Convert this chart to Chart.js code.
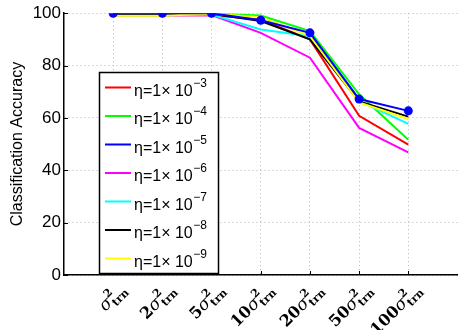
<!DOCTYPE html>
<html>
<head>
<meta charset="utf-8">
<script src="https://cdn.jsdelivr.net/npm/chart.js@4/dist/chart.umd.min.js"></script>
<style>
  html, body { margin: 0; padding: 0; background: #fff; overflow: hidden; }
  #wrap { width: 462px; height: 330px; }
</style>
</head>
<body>
<div id="wrap"><canvas id="chart"></canvas></div>
<script>
// ===== data =====
const xPositions = [1, 2, 3, 4, 5, 6, 7];
const xMultipliers = ['', '2', '5', '10', '20', '50', '100'];
const yTicks = [0, 20, 40, 60, 80, 100];

const etaExponents = ['3', '4', '5', '6', '7', '8', '9'];
const etaColors = ['#ff0000', '#00ff00', '#0000ff', '#ff00ff', '#00ffff', '#000000', '#ffff00'];

const acc1e3 = [99.2, 99.2, 99.3, 97.5, 90.0, 60.8, 49.8];
const acc1e4 = [99.4, 99.4, 99.8, 99.1, 93.2, 69.0, 51.7];
const acc1e5 = [100, 100, 100, 97.3, 92.5, 67.2, 62.7];
const acc1e6 = [99.2, 99.2, 99.3, 92.5, 83.0, 56.2, 46.8];
const acc1e7 = [99.2, 99.2, 99.5, 93.8, 91.2, 66.5, 57.7];
const acc1e8 = [99.5, 99.5, 99.8, 97.0, 90.0, 66.3, 60.5];
const acc1e9 = [99.0, 99.0, 99.8, 98.5, 91.3, 65.9, 59.6];

const seriesValues = [acc1e3, acc1e4, acc1e5, acc1e6, acc1e7, acc1e8, acc1e9];

// ===== plugin: matlab-style legend, inner ticks, LaTeX-ish x labels =====
const figureDecor = {
  id: 'figureDecor',
  afterDraw(chart) {
    const ctx = chart.ctx;
    const xs = chart.scales.x;
    const ys = chart.scales.y;
    const area = chart.chartArea;

    ctx.save();
    // inner tick marks
    ctx.strokeStyle = '#000';
    ctx.lineWidth = 1;
    ctx.beginPath();
    xPositions.forEach(v => {
      const px = Math.round(xs.getPixelForValue(v)) + 0.5;
      ctx.moveTo(px, area.bottom);
      ctx.lineTo(px, area.bottom - 4);
    });
    yTicks.forEach(v => {
      const py = Math.round(ys.getPixelForValue(v)) + 0.5;
      ctx.moveTo(area.left, py);
      ctx.lineTo(area.left + 4, py);
    });
    ctx.stroke();

    // legend box
    const bx = 99.5, by = 72.5, bw = 119, bh = 201;
    ctx.fillStyle = '#fff';
    ctx.fillRect(bx, by, bw, bh);
    ctx.lineWidth = 1.5;
    ctx.strokeStyle = '#000';
    ctx.strokeRect(bx, by, bw, bh);

    etaExponents.forEach((e, i) => {
      const cy = 87.5 + i * 28.5;
      ctx.strokeStyle = etaColors[i];
      ctx.lineWidth = 2;
      ctx.beginPath();
      ctx.moveTo(105, cy);
      ctx.lineTo(131, cy);
      ctx.stroke();

      ctx.fillStyle = '#000';
      ctx.textAlign = 'left';
      ctx.textBaseline = 'alphabetic';
      ctx.font = '16px "Liberation Sans", Arial, sans-serif';
      const main = '\u03b7=1\u00d7 10';
      ctx.fillText(main, 134, cy + 8);
      const w = ctx.measureText(main).width;
      ctx.font = '12px "Liberation Sans", Arial, sans-serif';
      ctx.fillText('\u2212' + e, 134 + w + 0.5, cy - 1);
    });

    // x tick labels: k sigma^2_trn, rotated 45 degrees
    xPositions.forEach((v, i) => {
      const px = xs.getPixelForValue(v);
      const parts = [];
      if (xMultipliers[i]) parts.push({ t: xMultipliers[i], f: 'bold 16px "DejaVu Serif", serif', dy: 0 });
      parts.push({ t: '\u03c3', f: 'italic 17px "DejaVu Serif", serif', dy: 0 });
      parts.push({ t: '2', f: 'bold 11px "DejaVu Serif", serif', dy: -8, sup: true });
      parts.push({ t: 'trn', f: 'bold 11px "DejaVu Serif", serif', dy: 4, sub: true });

      // superscript and subscript stack in the same column
      let total = 0;
      const widths = parts.map(p => { ctx.font = p.f; return ctx.measureText(p.t).width; });
      parts.forEach((p, k) => { if (!p.sup) total += widths[k]; });

      ctx.save();
      ctx.translate(px + 10, area.bottom + 12);
      ctx.rotate(-Math.PI / 4);
      ctx.fillStyle = '#000';
      ctx.textAlign = 'left';
      ctx.textBaseline = 'alphabetic';
      let cx = -total;
      parts.forEach((p, k) => {
        ctx.font = p.f;
        ctx.fillText(p.t, cx, p.dy + 5);
        if (!p.sup) cx += widths[k];
      });
      ctx.restore();
    });
    ctx.restore();
  }
};

const datasets = seriesValues.map((vals, i) => ({
  label: '\u03b7=1\u00d7 10^-' + etaExponents[i],
  data: vals.map((v, k) => ({ x: xPositions[k], y: v })),
  borderColor: etaColors[i],
  backgroundColor: etaColors[i],
  borderWidth: 2,
  tension: 0,
  pointRadius: i === 2 ? 4.5 : 0,
  pointBorderWidth: 0,
  pointHoverRadius: 0,
  order: i === 2 ? -1 : 10 - i
}));

new Chart(document.getElementById('chart'), {
  type: 'line',
  data: { datasets },
  options: {
    responsive: true,
    maintainAspectRatio: false,
    animation: false,
    layout: { padding: { top: 12, right: 2, left: 0, bottom: 0 } },
    plugins: { legend: { display: false }, tooltip: { enabled: false } },
    scales: {
      x: {
        type: 'linear',
        min: 0,
        max: 8,
        afterBuildTicks: s => { s.ticks = xPositions.map(v => ({ value: v })); },
        afterFit: s => { s.height = 55; },
        ticks: { display: false },
        grid: { color: '#b4b4b4', lineWidth: 1, drawTicks: false },
        border: { display: true, color: '#000', width: 1.5, dash: [1, 3] }
      },
      y: {
        min: 0,
        max: 100,
        afterBuildTicks: s => { s.ticks = yTicks.map(v => ({ value: v })); },
        afterFit: s => { s.width = 64; },
        ticks: {
          color: '#000',
          padding: 3,
          font: { family: '"Liberation Sans", Arial, sans-serif', size: 17 }
        },
        grid: { color: '#b4b4b4', lineWidth: 1, drawTicks: false },
        border: { display: true, color: '#000', width: 1.5, dash: [1, 3] },
        title: {
          display: true,
          text: 'Classification Accuracy',
          color: '#000',
          padding: { top: 8, bottom: 0 },
          font: { family: '"Liberation Sans", Arial, sans-serif', size: 16 }
        }
      }
    }
  },
  plugins: [figureDecor]
});
</script>
</body>
</html>
